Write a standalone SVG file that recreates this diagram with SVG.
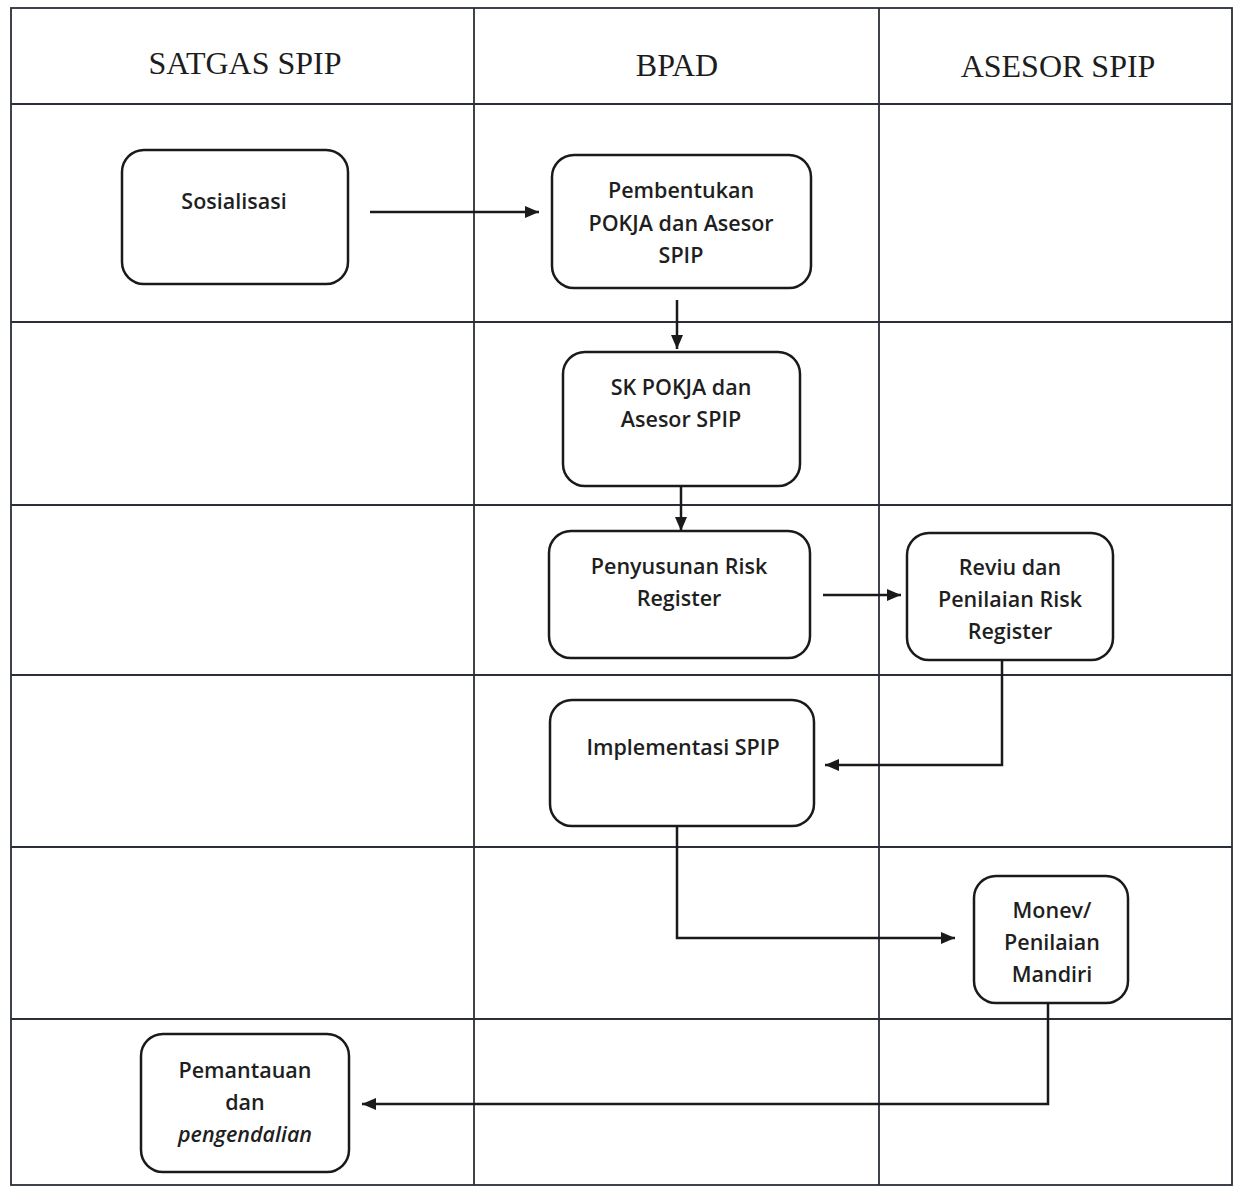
<svg xmlns="http://www.w3.org/2000/svg" width="1237" height="1188" viewBox="0 0 1237 1188">
<style>
.grid{stroke:#2a2f38;stroke-width:1.8;fill:none}
.hdr{font-family:"Liberation Serif","Times New Roman",serif;font-size:32px;fill:#1d1d1d;text-anchor:middle}
.box{fill:#fff;stroke:#1a1a1a;stroke-width:2.5}
.lbl{font-family:"Open Sans","Noto Sans",sans-serif;font-size:21.5px;font-weight:600;fill:#1f1f1f;text-anchor:middle}
.con{stroke:#1a1a1a;stroke-width:2.5;fill:none}
</style>
<defs>
<marker id="ah" viewBox="0 0 14 12" refX="14" refY="6" markerWidth="14" markerHeight="12" markerUnits="userSpaceOnUse" orient="auto">
<path d="M0,0 L14,6 L0,12 Z" fill="#1a1a1a"/>
</marker>
</defs>
<rect width="1237" height="1188" fill="#fff"/>
<g id="lanes">
<rect class="grid" x="11" y="8" width="1221" height="1177"/>
<line class="grid" x1="11" y1="104" x2="1232" y2="104"/>
<line class="grid" x1="11" y1="322" x2="1232" y2="322"/>
<line class="grid" x1="11" y1="505" x2="1232" y2="505"/>
<line class="grid" x1="11" y1="675" x2="1232" y2="675"/>
<line class="grid" x1="11" y1="847" x2="1232" y2="847"/>
<line class="grid" x1="11" y1="1019" x2="1232" y2="1019"/>
<line class="grid" x1="474" y1="8" x2="474" y2="1185"/>
<line class="grid" x1="879" y1="8" x2="879" y2="1185"/>
<text class="hdr" x="245" y="74">SATGAS SPIP</text>
<text class="hdr" x="677" y="76">BPAD</text>
<text class="hdr" x="1058" y="77">ASESOR SPIP</text>
</g>
<g id="connectors">
<line class="con" x1="370" y1="212" x2="539" y2="212" marker-end="url(#ah)"/>
<line class="con" x1="677" y1="300" x2="677" y2="349" marker-end="url(#ah)"/>
<line class="con" x1="681" y1="486" x2="681" y2="531" marker-end="url(#ah)"/>
<line class="con" x1="823" y1="595" x2="901" y2="595" marker-end="url(#ah)"/>
<polyline class="con" points="1002,660 1002,765 825,765" marker-end="url(#ah)"/>
<polyline class="con" points="677,826 677,938 955,938" marker-end="url(#ah)"/>
<polyline class="con" points="1048,1003 1048,1104 362,1104" marker-end="url(#ah)"/>
</g>
<g id="n1">
<rect class="box" x="122" y="150" width="226" height="134" rx="22"/>
<text class="lbl" x="234" y="209">Sosialisasi</text>
</g>
<g id="n2">
<rect class="box" x="552" y="155" width="259" height="133" rx="22"/>
<text class="lbl" x="681" y="198">Pembentukan</text>
<text class="lbl" x="681" y="231">POKJA dan Asesor</text>
<text class="lbl" x="681" y="263">SPIP</text>
</g>
<g id="n3">
<rect class="box" x="563" y="352" width="237" height="134" rx="22"/>
<text class="lbl" x="681" y="395">SK POKJA dan</text>
<text class="lbl" x="681" y="427">Asesor SPIP</text>
</g>
<g id="n4">
<rect class="box" x="549" y="531" width="261" height="127" rx="22"/>
<text class="lbl" x="679" y="574">Penyusunan Risk</text>
<text class="lbl" x="679" y="606">Register</text>
</g>
<g id="n5">
<rect class="box" x="907" y="533" width="206" height="127" rx="22"/>
<text class="lbl" x="1010" y="575">Reviu dan</text>
<text class="lbl" x="1010" y="607">Penilaian Risk</text>
<text class="lbl" x="1010" y="639">Register</text>
</g>
<g id="n6">
<rect class="box" x="550" y="700" width="264" height="126" rx="22"/>
<text class="lbl" x="683" y="755">Implementasi SPIP</text>
</g>
<g id="n7">
<rect class="box" x="974" y="876" width="154" height="127" rx="22"/>
<text class="lbl" x="1052" y="918">Monev/</text>
<text class="lbl" x="1052" y="950">Penilaian</text>
<text class="lbl" x="1052" y="982">Mandiri</text>
</g>
<g id="n8">
<rect class="box" x="141" y="1034" width="208" height="138" rx="22"/>
<text class="lbl" x="245" y="1078">Pemantauan</text>
<text class="lbl" x="245" y="1110">dan</text>
<text class="lbl" x="245" y="1142" font-style="italic">pengendalian</text>
</g>
</svg>
